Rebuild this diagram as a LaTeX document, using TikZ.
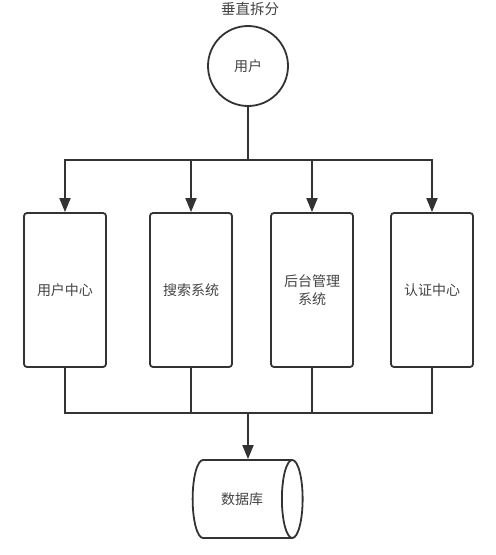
\documentclass[tikz,border=0pt]{standalone}
\usepackage{fontspec}
\newfontfamily\cjk{Noto Sans CJK SC}
\usetikzlibrary{arrows.meta,shapes.geometric,positioning}
\definecolor{linegray}{HTML}{333333}
\definecolor{textgray}{HTML}{444444}

\begin{document}
\begin{tikzpicture}[x=1pt,y=-1pt,
		label/.style={font=\cjk\fontsize{14}{18}\selectfont,text=textgray,align=center},
		box/.style={label,draw=linegray,line width=1.8pt,rounded corners=3pt,minimum width=82pt,minimum height=154pt,inner sep=0pt},
		link/.style={draw=linegray,line width=1.8pt},
		arr/.style={link,-{Triangle[length=14pt,width=11pt]}}]
		\useasboundingbox[fill=white] (0,0) rectangle (496,555);
		\node[label,font=\cjk\fontsize{14.5}{18}\selectfont] (title) at (250,9) {垂直拆分};
		\node[label,circle,draw=linegray,line width=1.8pt,minimum size=80pt,inner sep=0pt] (user) at (248,66) {用户};
		\node[box] (n1) at (65,290) {用户中心};
		\node[box] (n2) at (191,290) {搜索系统};
		\node[box] (n3) at (312,290) {后台管理\\系统};
		\node[box] (n4) at (432,290) {认证中心};
		\node[label,cylinder,draw=linegray,line width=1.8pt,minimum width=78pt,minimum height=110pt,aspect=1.6,inner sep=0pt] (db) at (242,499) {数据库};
		\coordinate (split) at (248,160);
		\coordinate (merge) at (248,413);
		\draw[link] (user.south) -- (split);
		\draw[arr] (split) -| (n1.north);
		\draw[arr] (split) -| (n2.north);
		\draw[arr] (split) -| (n3.north);
		\draw[arr] (split) -| (n4.north);
		\draw[link] (n1.south) |- (merge);
		\draw[link] (n2.south) |- (merge);
		\draw[link] (n3.south) |- (merge);
		\draw[link] (n4.south) |- (merge);
		\draw[arr] (merge) -- (merge |- db.north);
\end{tikzpicture}
\end{document}
